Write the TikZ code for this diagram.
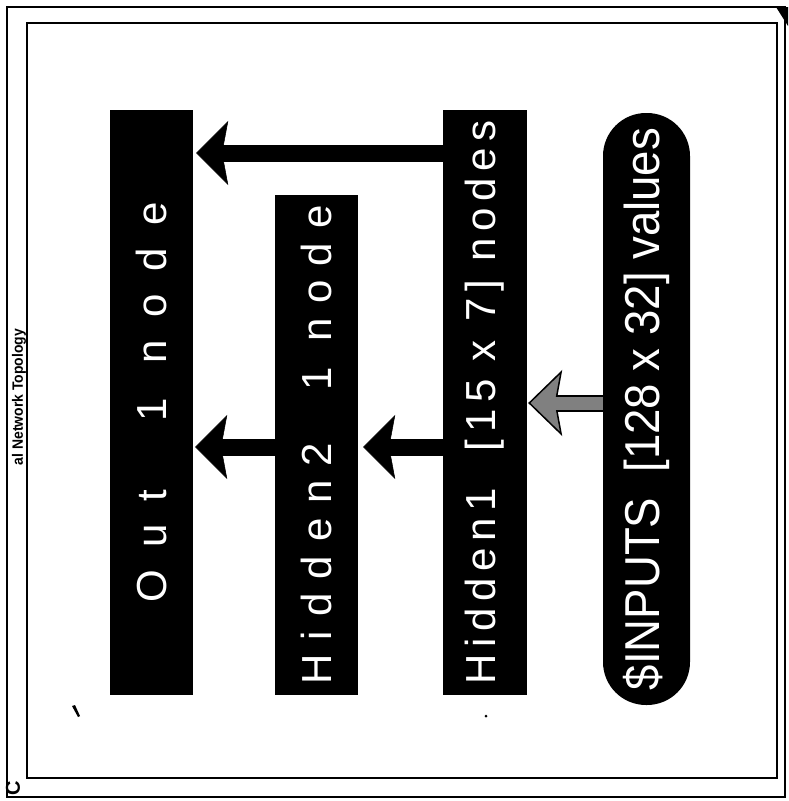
\documentclass[tikz,border=0pt]{standalone}
\usepackage{fontspec}
\setmainfont{Liberation Sans}
\usetikzlibrary{arrows.meta}
\definecolor{stipple}{gray}{0.5}

\begin{document}
\begin{tikzpicture}[
  x=1pt, y=-1pt,
  >=Stealth,
  layer/.style={fill=black, text=white, inner sep=0pt, minimum width=83pt},
  pill/.style={fill=black, text=white, inner sep=0pt, rounded corners=43pt, minimum width=87pt},
  arr/.style={line width=17pt, -{Stealth[length=32pt, width=64pt, inset=6pt, line width=0.5pt]}},
  inarr/.style={line width=17pt, draw=black, -{Stealth[length=34pt, width=66pt, inset=6pt, line width=1.5pt, fill=stipple]}},
  inshaft/.style={line width=13pt, draw=stipple, shorten >=24pt},
  frame/.style={draw=black, line width=2.2pt},
]
\useasboundingbox (0,0) rectangle (788,801);

% frames and page marks
\draw[frame] (7,7) rectangle (785,797);
\draw[frame, line width=1.8pt] (27,23) rectangle (777,778);
\fill (776,7) -- (788,7) -- (788,26) -- cycle;
\fill (72,706) -- (75,705) -- (80,716) -- (78,717) -- cycle;
\fill (486,716) circle (1.5pt);

\node[rotate=90, inner sep=0pt, font=\bfseries\fontsize{15}{15}\selectfont] (title) at (19,397) {\scalebox{0.93}[1]{al Network Topology}};
\node[rotate=90, inner sep=0pt, font=\bfseries\fontsize{20}{20}\selectfont] (corner) at (13,788) {C};

% layers
\node[layer, minimum height=585pt] (out) at (151.5,402.5) {\rotatebox{90}{\fontsize{42}{42}\selectfont\addfontfeatures{LetterSpace=54}Out\ \ 1 node}};
\node[layer, minimum height=500pt] (hid2) at (316.5,445) {\rotatebox{90}{\fontsize{42}{42}\selectfont\addfontfeatures{LetterSpace=34}Hidden2\ \ 1 node}};
\node[layer, minimum height=585pt, minimum width=84pt] (hid1) at (485,402.5) {\rotatebox{90}{\fontsize{42}{42}\selectfont\addfontfeatures{LetterSpace=16}Hidden1\ \ [15 x 7] nodes}};
\node[pill, minimum height=592pt] (inp) at (646.5,409) {\rotatebox{90}{\fontsize{49}{49}\selectfont\scalebox{0.93}[1]{\$INPUTS\ \ [128 x 32] values}}};

% connections
\draw[arr, shorten >=3pt] (hid1.west |- 0,153) -- (out.east |- 0,153);
\draw[arr, shorten >=2pt] (hid2.west |- 0,447) -- (out.east |- 0,447);
\draw[arr, shorten >=5pt] (hid1.west |- 0,447) -- (hid2.east |- 0,447);
\draw[inarr, shorten >=1pt] (inp.west |- 0,403) -- (hid1.east |- 0,403);
\draw[inshaft, shorten >=25pt] (inp.west |- 0,403) -- (hid1.east |- 0,403);

\end{tikzpicture}
\end{document}
